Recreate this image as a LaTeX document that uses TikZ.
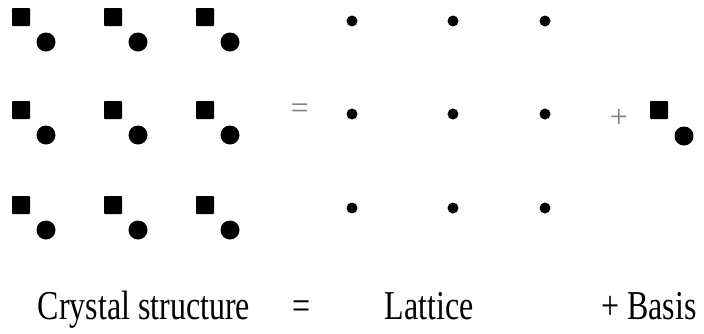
\documentclass[tikz,border=0pt]{standalone}
\usepackage{fontspec}
\setmainfont{Liberation Serif}

\begin{document}
\begin{tikzpicture}[x=1pt,y=-1pt,line cap=round,
  atomsq/.style={fill=black,rounded corners=0.8pt},
  sign/.style={text=black!50,font=\fontsize{32}{32}\selectfont,inner sep=0pt},
  caption/.style={font=\fontsize{41}{41}\selectfont,xscale=0.78,inner sep=0pt,anchor=base}]
\useasboundingbox (0,0) rectangle (704,333);
% crystal structure: square + circle at every site
\foreach \x in {21,113,205} {
  \foreach \y in {17,110,205} {
    \fill[atomsq] (\x-9,\y-9) rectangle (\x+9,\y+9);
    \fill (\x+25,\y+25) circle (9.5);
  }
}
\node[sign] (eqtop) at (300,111) {=};
% lattice
\foreach \x in {352,453,545} {
  \foreach \y in {21,114,208} {
    \fill (\x,\y) circle (5.5);
  }
}
\node[sign] (plustop) at (619,118) {+};
% basis
\fill[atomsq] (650,101) rectangle (668,119);
\fill (684,136) circle (9.5);
% labels
\node[caption] (crys) at (144,319) {Crystal structure};
\node[caption] (eqbot) at (302,319) {=};
\node[caption] (latt) at (429,319) {Lattice};
\node[caption] (basis) at (649,319) {+ Basis};
\end{tikzpicture}
\end{document}
